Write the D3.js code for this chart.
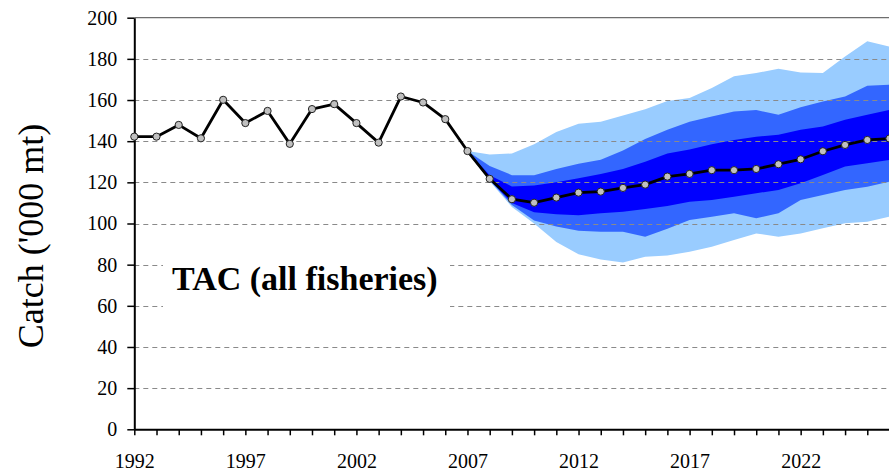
<!DOCTYPE html>
<html>
<head>
<meta charset="utf-8">
<script src="https://cdn.jsdelivr.net/npm/d3@7"></script>
<style>
  html, body { margin: 0; padding: 0; background: #fff; overflow: hidden; }
  svg { display: block; }
  svg text { font-family: "Liberation Serif", "Times New Roman", serif !important; }
</style>
</head>
<body>
<svg id="chart" width="889" height="473"></svg>
<script>
// TAC catch, thousand tonnes: observed 1992-2007, median projection 2008-2026
const years = [1992, 1993, 1994, 1995, 1996, 1997, 1998, 1999, 2000, 2001, 2002, 2003,
  2004, 2005, 2006, 2007, 2008, 2009, 2010, 2011, 2012, 2013, 2014, 2015, 2016, 2017,
  2018, 2019, 2020, 2021, 2022, 2023, 2024, 2025, 2026];
const tac = [142.2, 142.2, 147.9, 141.4, 160.1, 148.8, 154.7, 138.7, 155.6, 158.0, 148.8, 139.3,
  161.7, 158.8, 150.7, 135.2, 121.7, 111.8, 110.1, 112.6, 115.0, 115.5, 117.3, 118.9, 122.8, 124.1,
  125.9, 125.9, 126.5, 128.8, 131.2, 135.1, 138.2, 140.6, 141.3];

// Projection uncertainty envelopes (outer, middle, inner)
const projYears = [2007, 2008, 2009, 2010, 2011, 2012, 2013, 2014, 2015, 2016,
  2017, 2018, 2019, 2020, 2021, 2022, 2023, 2024, 2025, 2026];
const outerHi = [135.2, 133.5, 134.0, 138.5, 144.5, 148.5, 149.5, 152.5, 155.5, 159.5,
  161.0, 165.8, 171.5, 173.1, 175.2, 173.4, 173.1, 181.2, 188.5, 186.0];
const outerLo = [135.2, 120.5, 108.0, 100.0, 91.0, 85.0, 82.5, 81.0, 83.8, 84.5,
  86.3, 88.7, 92.0, 95.2, 93.6, 95.2, 97.7, 100.1, 100.9, 103.3];
const middleHi = [135.2, 128.0, 123.5, 123.5, 126.5, 129.0, 131.0, 135.5, 141.0, 145.5,
  149.5, 152.0, 154.4, 155.2, 152.8, 156.5, 159.3, 161.7, 166.9, 167.4];
const middleLo = [135.2, 121.0, 109.0, 101.5, 98.5, 96.5, 96.0, 96.0, 93.6, 97.5,
  101.7, 103.3, 105.0, 102.5, 105.0, 111.4, 113.9, 116.3, 117.9, 120.3];
const innerHi = [135.2, 123.5, 118.0, 118.5, 120.0, 122.0, 124.0, 126.5, 130.0, 134.0,
  136.0, 138.5, 140.6, 142.2, 143.1, 145.5, 147.1, 150.4, 152.8, 155.2];
const innerLo = [135.2, 121.2, 110.0, 105.5, 104.5, 104.0, 105.0, 105.7, 107.0, 108.5,
  110.6, 111.4, 113.0, 114.7, 116.3, 119.6, 123.6, 127.7, 129.3, 130.9];

const yTicks = [0, 20, 40, 60, 80, 100, 120, 140, 160, 180, 200];
const xLabelYears = [1992, 1997, 2002, 2007, 2012, 2017, 2022];
const yTitle = "Catch ('000 mt)";
const panelTitle = "TAC (all fisheries)";

const serif = "'Liberation Serif', 'Times New Roman', serif";
const svg = d3.select("#chart");

const x = d3.scaleLinear().domain([1992, 2026]).range([134.3, 889.5]);
const y = d3.scaleLinear().domain([0, 200]).range([429.3, 17.7]);

// envelope bands, outermost first
const bands = [
  { hi: outerHi, lo: outerLo, color: "#99CCFF" },
  { hi: middleHi, lo: middleLo, color: "#3366FF" },
  { hi: innerHi, lo: innerLo, color: "#0000FF" }
];
const area = d3.area()
  .x(d => x(d.year))
  .y0(d => y(d.lo))
  .y1(d => y(d.hi));
bands.forEach(b => {
  const rows = projYears.map((yr, i) => ({ year: yr, hi: b.hi[i], lo: b.lo[i] }));
  svg.append("path").datum(rows)
    .attr("d", area)
    .attr("fill", b.color);
});

// dashed horizontal gridlines
svg.append("g").selectAll("line")
  .data(yTicks.filter(v => v > 0 && v < 200))
  .join("line")
  .attr("x1", x(1992)).attr("x2", 889)
  .attr("y1", d => Math.round(y(d)) + 0.5).attr("y2", d => Math.round(y(d)) + 0.5)
  .attr("stroke", "#8a8a8a").attr("stroke-width", 1.2)
  .attr("stroke-dasharray", "5,4");

// top border of the plot area
svg.append("line")
  .attr("x1", x(1992)).attr("x2", 889)
  .attr("y1", y(200)).attr("y2", y(200))
  .attr("stroke", "#6e6e6e").attr("stroke-width", 1.2);

// panel label on a white patch
svg.append("rect")
  .attr("x", 163).attr("y", 247).attr("width", 287).attr("height", 72)
  .attr("fill", "#fff");
svg.append("text")
  .attr("x", 172).attr("y", 290)
  .style("font-family", serif)
  .attr("font-size", 34).attr("font-weight", "bold")
  .attr("fill", "#000")
  .text(panelTitle);

// y axis
const yAxis = svg.append("g")
  .attr("transform", `translate(${x(1992)},0)`)
  .call(d3.axisLeft(y).tickValues(yTicks).tickSize(7).tickSizeOuter(0).tickPadding(10));
yAxis.attr("font-family", null);
yAxis.select(".domain").attr("stroke", "#000").attr("stroke-width", 2);
yAxis.selectAll(".tick line").attr("stroke", "#000").attr("stroke-width", 1.5);
yAxis.selectAll(".tick text")
  .style("font-family", serif)
  .attr("font-size", 20).attr("fill", "#000");

// x axis
const xAxis = svg.append("g")
  .attr("transform", `translate(0,${y(0)})`)
  .call(d3.axisBottom(x).tickValues(years).tickSize(6).tickSizeOuter(0)
    .tickFormat(d => xLabelYears.includes(d) ? String(d) : ""));
xAxis.attr("font-family", null);
xAxis.select(".domain").attr("stroke", "#000").attr("stroke-width", 2);
xAxis.selectAll(".tick line").attr("stroke", "#000").attr("stroke-width", 1.5);
xAxis.selectAll(".tick text")
  .attr("y", 39).attr("dy", null)
  .style("font-family", serif)
  .attr("font-size", 20).attr("fill", "#000");

// y axis title
svg.append("text")
  .attr("transform", "translate(43,236) rotate(-90)")
  .attr("text-anchor", "middle")
  .style("font-family", serif)
  .attr("font-size", 36).attr("fill", "#000")
  .text(yTitle);

// catch line with markers
const series = years.map((yr, i) => ({ year: yr, v: tac[i] }));
svg.append("path").datum(series)
  .attr("d", d3.line().x(d => x(d.year)).y(d => y(d.v)))
  .attr("fill", "none").attr("stroke", "#000").attr("stroke-width", 2.8)
  .attr("stroke-linejoin", "round");
svg.append("g").selectAll("circle")
  .data(series)
  .join("circle")
  .attr("cx", d => x(d.year)).attr("cy", d => y(d.v))
  .attr("r", 3.6)
  .attr("fill", "#C0C0C0").attr("stroke", "#222").attr("stroke-width", 1);
</script>
</body>
</html>
